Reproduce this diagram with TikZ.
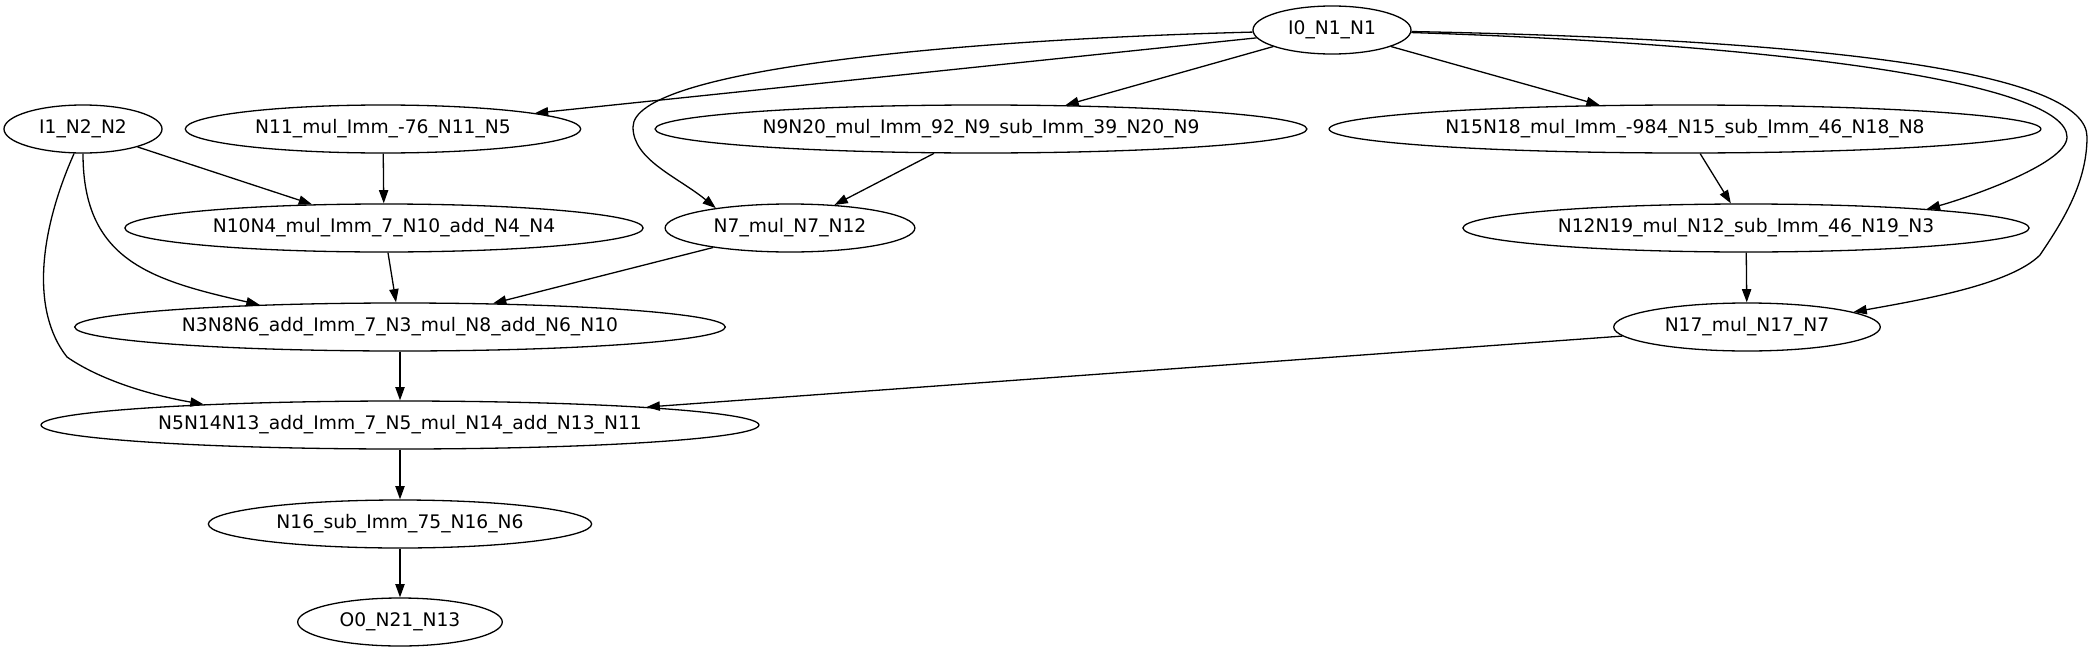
\documentclass[tikz,border=0pt]{standalone}
\usepackage{fontspec}
\setmainfont{DejaVu Sans}
\usetikzlibrary{shapes.geometric, arrows.meta}

\tikzset{
    op/.style={draw, ellipse, line width=1.3pt, inner xsep=12pt, minimum height=48pt,
               font=\fontsize{18.67}{22}\selectfont},
}

\begin{document}
\begin{tikzpicture}[x=1pt, y=-1pt, line width=1.3pt, >={Triangle[length=13.3pt,width=9.3pt]}]
    \useasboundingbox (0,0) rectangle (2093,653);

    \node[op] at (1332,30)  (I0)  {I0\_N1\_N1};
    \node[op] at (83,129)   (I1)  {I1\_N2\_N2};
    \node[op] at (383,129)  (N11) {N11\_mul\_Imm\_-76\_N11\_N5};
    \node[op] at (981,129)  (N9)  {N9N20\_mul\_Imm\_92\_N9\_sub\_Imm\_39\_N20\_N9};
    \node[op] at (1685,129) (N15) {N15N18\_mul\_Imm\_-984\_N15\_sub\_Imm\_46\_N18\_N8};
    \node[op] at (384,228)  (N10) {N10N4\_mul\_Imm\_7\_N10\_add\_N4\_N4};
    \node[op] at (790,228)  (N7)  {N7\_mul\_N7\_N12};
    \node[op] at (1746,228) (N12) {N12N19\_mul\_N12\_sub\_Imm\_46\_N19\_N3};
    \node[op] at (400,327)  (N3)  {N3N8N6\_add\_Imm\_7\_N3\_mul\_N8\_add\_N6\_N10};
    \node[op] at (1747,327) (N17) {N17\_mul\_N17\_N7};
    \node[op] at (400,425)  (N5)  {N5N14N13\_add\_Imm\_7\_N5\_mul\_N14\_add\_N13\_N11};
    \node[op] at (400,524)  (N16) {N16\_sub\_Imm\_75\_N16\_N6};
    \node[op] at (400,622)  (O0)  {O0\_N21\_N13};

    \draw[->] (I0) -- (N11);
    \draw[->] (I0) .. controls (950,40) and (633,70) .. (633,127)
                   .. controls (633,160) and (678,177) .. (N7.165);
    \draw[->] (I0) -- (N9);
    \draw[->] (I0) -- (N15);
    \draw[->] (I0) .. controls (1800,45) and (2067,85) .. (2067,137)
                   .. controls (2067,165) and (1960,200) .. (N12.6);
    \draw[->] (I0) .. controls (1850,40) and (2087,75) .. (2087,137)
                   .. controls (2087,185) and (2060,225) .. (2040,255)
                   .. controls (2010,285) and (1920,300) .. (N17.8);
    \draw[->] (I1) -- (N10);
    \draw[->] (I1.270) .. controls (83,260) and (150,280) .. (N3.171);
    \draw[->] (I1.250) .. controls (40,230) and (30,310) .. (67,357)
                       .. controls (100,380) and (150,395) .. (N5.174);
    \draw[->] (N11) -- (N10);
    \draw[->] (N9) -- (N7);
    \draw[->] (N10) -- (N3);
    \draw[->] (N7) -- (N3);
    \draw[->] (N15) -- (N12);
    \draw[->] (N12) -- (N17);
    \draw[->] (N3) -- (N5);
    \draw[->] (N17) -- (N5);
    \draw[->] (N5) -- (N16);
    \draw[->] (N16) -- (O0);
\end{tikzpicture}
\end{document}
